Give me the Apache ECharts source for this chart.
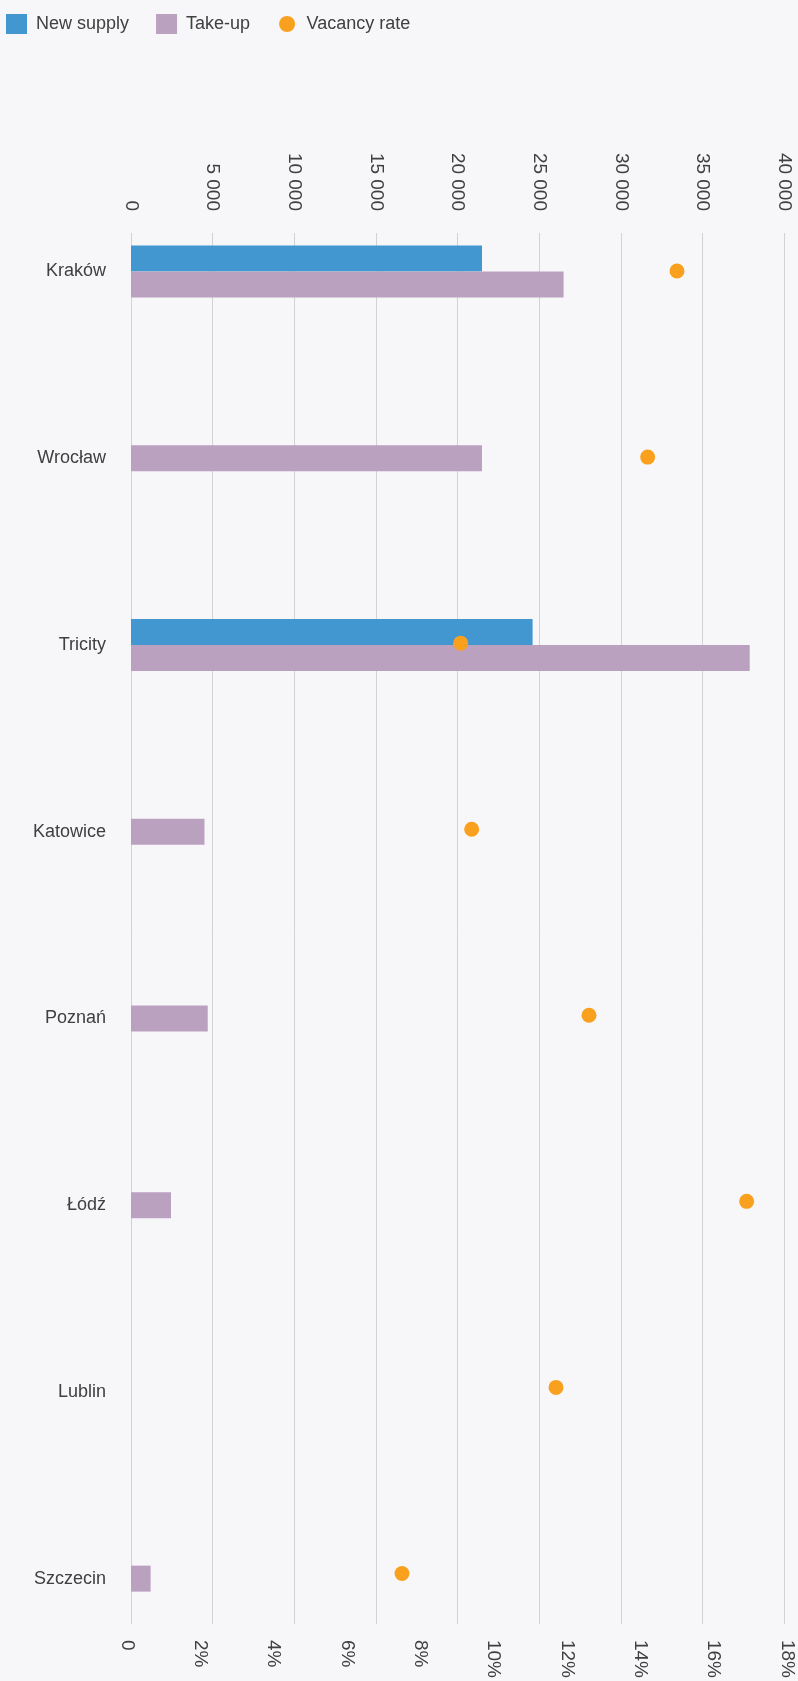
<!DOCTYPE html>
<html>
<head>
<meta charset="utf-8">
<script src="https://cdn.jsdelivr.net/npm/echarts@6/dist/echarts.min.js"></script>
<style>
  html, body { margin: 0; padding: 0; background: #f7f6f9; }
  #chart { width: 798px; height: 1681px; }
</style>
</head>
<body>
<div id="chart"></div>
<script>
// Office market by city: new supply and take-up (sq m), vacancy rate (%)
const categories = ['Kraków', 'Wrocław', 'Tricity', 'Katowice', 'Poznań', 'Łódź', 'Lublin', 'Szczecin'];
const newSupply = [21500, null, 24600, null, null, null, null, null];
const takeUp = [26500, 21500, 37900, 4500, 4700, 2450, null, 1200];
const vacancyRate = [15.0, 14.2, 9.1, 9.4, 12.6, 16.9, 11.7, 7.5];

const areaAxis = { min: 0, max: 40000, interval: 5000 };
const rateAxis = { min: 0, max: 18, interval: 2 };

const FONT = '"Liberation Sans", Arial, sans-serif';
const TEXT = '#404040';
const BLUE = '#4297d0';
const PURPLE = '#bba1c0';
const ORANGE = '#f9a11e';

// Take-up sits beside new supply where a city has both; otherwise it is centred on its row
const takeUpPaired = takeUp.map((v, i) => (newSupply[i] != null ? v : null));
const takeUpSolo = takeUp.map((v, i) => (newSupply[i] == null ? v : null));

const spaced = v => String(v).replace(/\B(?=(\d{3})+(?!\d))/g, ' ');

// legend dot: a 16px circle inside a 20px box
const DOT_ICON = 'path://M0,0 M20,20 M10,2 A8,8 0 1,1 10,18 A8,8 0 1,1 10,2 Z';

const chart = echarts.init(document.getElementById('chart'), null, { renderer: 'canvas' });

chart.setOption({
  backgroundColor: '#f7f6f9',
  animation: false,
  textStyle: { fontFamily: FONT },
  legend: {
    left: 6,
    top: 14,
    padding: 0,
    itemWidth: 21,
    itemHeight: 20,
    itemGap: 27,
    textStyle: { fontSize: 18, color: TEXT, fontFamily: FONT, padding: [0, 0, 0, 4] },
    data: [
      { name: 'New supply', icon: 'rect' },
      { name: 'Take-up', icon: 'rect' },
      { name: 'Vacancy rate', icon: DOT_ICON }
    ]
  },
  grid: [
    // gridlines and area scale
    { left: 131, right: 14, top: 233, bottom: 57 },
    // bars
    { left: 131, right: 14, top: 178, bottom: 9 },
    // vacancy rate
    { left: 127, right: 11, top: 178, bottom: 9 }
  ],
  xAxis: [
    {
      gridIndex: 0, type: 'value', position: 'top',
      min: areaAxis.min, max: areaAxis.max, interval: areaAxis.interval,
      axisLine: { show: false }, axisTick: { show: false },
      axisLabel: {
        rotate: -90, margin: 22, fontSize: 19, color: TEXT, fontFamily: FONT,
        formatter: v => spaced(v)
      },
      splitLine: { show: true, lineStyle: { color: '#d3d1d6', width: 1 } }
    },
    {
      gridIndex: 1, type: 'value',
      min: areaAxis.min, max: areaAxis.max, interval: areaAxis.interval,
      show: false, splitLine: { show: false }
    },
    {
      gridIndex: 2, type: 'value', position: 'bottom', offset: -47.5,
      min: rateAxis.min, max: rateAxis.max, interval: rateAxis.interval,
      axisLine: { show: false }, axisTick: { show: false },
      axisLabel: {
        rotate: -90, margin: 21, fontSize: 19, color: TEXT, fontFamily: FONT,
        formatter: v => (v === 0 ? '0' : v + '%')
      },
      splitLine: { show: false }
    }
  ],
  yAxis: [
    {
      gridIndex: 1, type: 'category', data: categories, inverse: true, position: 'left',
      axisLine: { show: false }, axisTick: { show: false },
      axisLabel: { margin: 25, fontSize: 18, color: TEXT, fontFamily: FONT },
      splitLine: { show: false }
    },
    {
      gridIndex: 1, type: 'category', data: categories, inverse: true, position: 'right',
      show: false
    },
    {
      gridIndex: 2, type: 'category', data: categories, inverse: true,
      show: false
    },
    {
      gridIndex: 0, type: 'value', show: false, splitLine: { show: false }
    }
  ],
  series: [
    {
      name: 'New supply', type: 'bar', xAxisIndex: 1, yAxisIndex: 0,
      data: newSupply, barWidth: 26, barGap: '0%',
      itemStyle: { color: BLUE }
    },
    {
      name: 'Take-up', type: 'bar', xAxisIndex: 1, yAxisIndex: 0,
      data: takeUpPaired, barWidth: 26, barGap: '0%',
      itemStyle: { color: PURPLE }
    },
    {
      name: 'Take-up', type: 'bar', xAxisIndex: 1, yAxisIndex: 1,
      data: takeUpSolo, barWidth: 26,
      itemStyle: { color: PURPLE }
    },
    {
      name: 'Vacancy rate', type: 'scatter', xAxisIndex: 2, yAxisIndex: 2,
      data: vacancyRate, symbolSize: 15, z: 5,
      itemStyle: { color: ORANGE, opacity: 1 }
    }
  ]
});
</script>
</body>
</html>
